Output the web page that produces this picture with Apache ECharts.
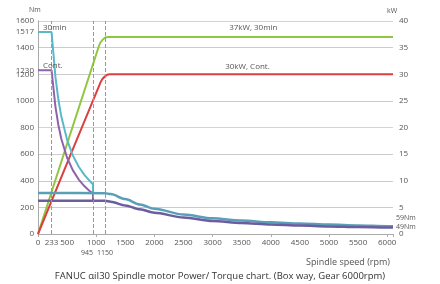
<!DOCTYPE html>
<html>
<head>
<meta charset="utf-8">
<script src="https://cdn.jsdelivr.net/npm/echarts@6/dist/echarts.min.js"></script>
<style>
  html, body { margin: 0; padding: 0; background: #fff; }
  #chart { width: 440px; height: 284px; }
</style>
</head>
<body>
<div id="chart"></div>
<script>
// speed (rpm) / torque (Nm) / power (kW)
const xLabels = [0, 233, 500, 1000, 1500, 2000, 2500, 3000, 3500, 4000, 4500, 5000, 5500, 6000];
const nmLabels = [0, 200, 400, 600, 800, 1000, 1200, 1230, 1400, 1517, 1600];
const markSpeeds = [233, 945, 1150];

const torque30minHigh = [[0, 1517], [233, 1517], [300, 1178], [350, 1010], [400, 884], [500, 707], [600, 589], [700, 505], [800, 442], [900, 393], [945, 374], [945, 308]];
const torqueContHigh = [[0, 1230], [233, 1230], [300, 955], [350, 819], [400, 716], [500, 573], [600, 478], [700, 409], [800, 358], [900, 318], [945, 303], [945, 250]];
const torque30minLow = [[0, 308], [1150, 307], [1250, 300], [1500, 262], [1750, 222], [2000, 190], [2500, 146], [3000, 118], [3500, 101], [4000, 88], [4500, 79], [5000, 71], [5500, 64], [6000, 59], [6100, 58]];
const torqueContLow = [[0, 250], [1150, 249], [1250, 242], [1500, 214], [1750, 185], [2000, 160], [2500, 124], [3000, 98], [3500, 83], [4000, 72], [4500, 64], [5000, 57], [5500, 52], [6000, 49], [6100, 48]];
const power30min = [[0, 0], [1050, 35.4], [1120, 36.6], [1200, 37], [6100, 37]];
const powerCont = [[0, 0], [1080, 28.6], [1150, 29.6], [1230, 30], [6100, 30]];

const font = 'Open Sans';
const txt = '#555';

const chart = echarts.init(document.getElementById('chart'));

const markLbl = (coord, text, pos, offset) => ({
  coord: coord,
  symbolSize: 0,
  label: { show: true, formatter: text, position: pos, offset: offset, color: txt, fontSize: 8, fontFamily: font }
});

const plain = v => String(v);

// extra bottom axis that only carries one label
const extraX = (value, align) => ({
  type: 'value',
  position: 'bottom',
  offset: 10,
  min: 0,
  max: 6100,
  axisLine: { show: false },
  axisTick: { show: false },
  splitLine: { show: false },
  axisLabel: { customValues: [value], formatter: plain, align: align, hideOverlap: false, color: txt, fontSize: 7, fontFamily: font, margin: 5 }
});

const unitStyle = { fontSize: 7, fontWeight: 'normal', color: txt, fontFamily: font };

chart.setOption({
  animation: false,
  title: [
    {
      text: 'FANUC αiI30 Spindle motor Power/ Torque chart. (Box way, Gear 6000rpm)',
      left: 'center',
      top: 266,
      textStyle: { fontSize: 9.5, fontWeight: 'normal', color: '#333', fontFamily: font }
    },
    { text: 'Nm', left: 24, top: 1, textStyle: unitStyle },
    { text: 'kW', left: 382, top: 2, textStyle: unitStyle }
  ],
  grid: { left: 38, right: 47, top: 21, bottom: 50 },
  xAxis: [
    {
      type: 'value',
      min: 0,
      max: 6100,
      name: 'Spindle speed (rpm)',
      nameLocation: 'end',
      nameGap: -3,
      nameTextStyle: { align: 'right', verticalAlign: 'top', padding: [24, 0, 0, 0], color: txt, fontSize: 9, fontFamily: font },
      axisLine: { lineStyle: { color: '#aaa' } },
      axisTick: { show: true, length: 3, lineStyle: { color: '#aaa' } },
      splitLine: { show: false },
      axisLabel: { customValues: xLabels, formatter: plain, color: txt, fontSize: 8, fontFamily: font, margin: 5 }
    },
    extraX(945, 'right'),
    extraX(1150, 'center')
  ],
  yAxis: [
    {
      type: 'value',
      position: 'left',
      min: 0,
      max: 1600,
      interval: 200,
      axisLine: { show: true, lineStyle: { color: '#aaa' } },
      axisTick: { show: false },
      splitLine: { lineStyle: { color: ['#ccc', '#ccc', '#ccc', '#ccc', '#f0c8c0', '#ccc', '#ccc', '#ccc', '#f0c8c0'] } },
      axisLabel: { customValues: nmLabels, formatter: plain, color: txt, fontSize: 8, fontFamily: font, margin: 4 }
    },
    {
      type: 'value',
      position: 'right',
      min: 0,
      max: 40,
      interval: 5,
      axisLine: { show: true, lineStyle: { color: '#aaa' } },
      axisTick: { show: false },
      splitLine: { show: false },
      axisLabel: { formatter: plain, color: txt, fontSize: 8, fontFamily: font, margin: 6 }
    }
  ],
  series: [
    {
      type: 'line', name: 'power 30min', yAxisIndex: 1, data: power30min, smooth: 0.2,
      symbol: 'none', lineStyle: { color: '#8fc640', width: 2 },
      markPoint: { data: [markLbl([3700, 37], '37kW, 30min', 'top', [0, 0])] }
    },
    {
      type: 'line', name: 'power cont', yAxisIndex: 1, data: powerCont, smooth: 0.2,
      symbol: 'none', lineStyle: { color: '#dc3f3f', width: 2 },
      markPoint: { data: [markLbl([3600, 30], '30kW, Cont.', 'top', [0, 1])] }
    },
    {
      type: 'line', name: 'torque 30min', data: torque30minHigh,
      symbol: 'none', lineStyle: { color: '#5ab9c8', width: 2 },
      markPoint: { data: [markLbl([0, 1517], '30min', 'right', [0, -4])] },
      markLine: {
        silent: true,
        symbol: 'none',
        label: { show: false },
        lineStyle: { color: '#999', type: 'dashed', width: 1 },
        data: markSpeeds.map(v => ({ xAxis: v }))
      }
    },
    {
      type: 'line', name: 'torque cont', data: torqueContHigh,
      symbol: 'none', lineStyle: { color: '#9062ac', width: 2 },
      markPoint: { data: [markLbl([0, 1230], 'Cont.', 'right', [0, -5])] }
    },
    {
      type: 'line', name: 'torque 30min low', data: torque30minLow, smooth: 0.3, smoothMonotone: 'x',
      symbol: 'none', lineStyle: { color: '#5a9fb8', width: 2.5 },
      endLabel: { show: true, formatter: '59Nm', color: txt, fontSize: 7, fontFamily: font, offset: [0, -8], distance: 3 }
    },
    {
      type: 'line', name: 'torque cont low', data: torqueContLow, smooth: 0.3, smoothMonotone: 'x',
      symbol: 'none', lineStyle: { color: '#6c5d9e', width: 2.5 },
      endLabel: { show: true, formatter: '49Nm', color: txt, fontSize: 7, fontFamily: font, offset: [0, -1], distance: 3 }
    }
  ]
});
</script>
</body>
</html>
